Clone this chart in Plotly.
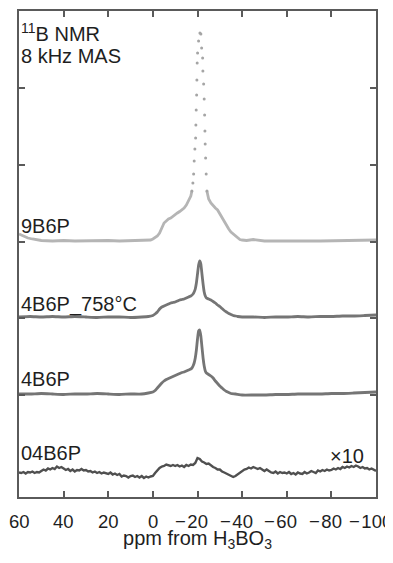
import plotly.graph_objects as go

# ---------------- data (ppm, intensity above each baseline) ----------------
offset_9B6P = 256
offset_758 = 180
offset_4B6P = 103
offset_04B6P = 26

ppm_9B6P_broad = [60, 58, 56, 54, 52, 50, 45, 40, 35, 30, 25, 20, 15, 10, 5, 2, 1, 0, -1, -2, -3, -4, -5,
                  -6, -7, -8, -9, -10, -11, -12, -13, -14, -15, -16, -17, -17.49,
                  None,
                  -24.22, -25, -26, -27, -28, -29, -30, -31, -32, -33, -34, -35, -36, -37, -38, -39, -40, -42,
                  -45, -48, -50, -55, -60, -65, -70, -75, -80, -85, -90, -95, -100]
int_9B6P_broad = [7, 5, 3, 2, 1, 0.5, 0, 0.5, 0, 0.3, 0, 0.5, 0, 0.3, 0.5, 0.5, 1, 2, 3.5, 5, 8, 13, 18,
                  20, 22, 23, 25, 26.5, 28, 29.5, 31, 33, 36, 40, 45, 50,
                  None,
                  50, 42, 38, 35, 33, 31, 27, 23, 19, 15, 12, 9, 7, 5, 3, 1.5, 1, 0.5,
                  1.5, 0.5, 0, 0, 0.3, 0, 0.2, 0, 0.3, 0.5, 0.8, 1, 1]

ppm_9B6P_peak = [-17.49, -17.94, -18.25, -18.52, -18.83, -19.15, -19.28, -19.42, -19.60, -19.73, -19.85,
                 -20.04, -20.49, -21.08, -21.52, -21.84, -22.29, -22.42, -22.74, -23.0, -23.18, -23.32,
                 -23.45, -23.63, -23.9, -24.22]
int_9B6P_peak = [50, 58, 67, 80, 92, 103, 116, 131, 146, 161, 178, 188, 200, 208, 207, 193, 183, 170,
                 157, 142, 126, 110, 97, 83, 67, 50]

ppm_758 = [60, 55, 50, 45, 40, 35, 30, 25, 20, 15, 10, 5, 2, 0, -1, -2, -3, -4, -5, -6, -7, -8, -9, -10,
           -11, -12, -13, -14, -15, -16, -17, -18, -18.5, -19, -19.5, -20, -20.5, -21, -21.5, -22, -22.5,
           -23, -23.5, -24, -25, -26, -27, -28, -29, -30, -31, -32, -33, -34, -35, -36, -37, -38, -40,
           -45, -50, -55, -60, -65, -70, -75, -80, -85, -90, -95, -100]
int_758 = [0, 0.5, 0, 0.5, 0, 0.5, 0, -0.5, 0, 0, -0.5, 0, 0.5, 1.5, 3, 5, 8, 10, 11, 12, 13, 14, 14.5, 15,
           16, 17, 17.5, 18, 19, 20, 21, 23, 25, 28, 34, 43, 52, 56, 53, 43, 33,
           25, 21, 19, 18, 17, 15.5, 14, 12, 10.5, 8.5, 6.5, 5, 3.5, 2.5, 1.5, 1, 0.5, 0,
           0, -0.5, 0, 0, 0.5, 0, 0.5, 0.5, 1, 1, 1.5, 2]

ppm_4B6P = [60, 55, 50, 45, 40, 35, 30, 25, 20, 15, 10, 5, 2, 0, -1, -2, -3, -4, -5, -6, -7, -8, -9, -10,
            -11, -12, -13, -14, -15, -16, -17, -17.5, -18, -18.5, -19, -19.5, -20, -20.5, -21, -21.5, -22,
            -22.5, -23, -23.5, -24, -25, -26, -27, -28, -29, -30, -31, -32, -33, -34, -35, -37, -40,
            -45, -50, -55, -60, -65, -70, -75, -80, -85, -90, -95, -100]
int_4B6P = [0, 0, 0.5, 0, -0.5, 0, 0, 0.5, 0, -0.5, 0, 0, 1, 2, 3.5, 6, 8.5, 11, 13, 14.5, 15.5, 16.5, 17.5,
            18.5, 19.5, 20.5, 21.5, 22, 23, 24, 25, 26, 28, 31, 36, 44, 55, 63, 64, 58, 47,
            36, 28, 23, 21, 19.5, 18, 16, 13, 10.5, 8, 6, 4, 2.5, 1.5, 0.5, 0, -1,
            -1, -1, -0.5, -0.5, 0, 0, 0, 0.5, 0.5, 1, 1.5, 2]

ppm_04B6P = list(range(60, -101, -1))
int_04B6P = [-1.5, -2, -1, -2.5, -1, -1.5, -0.5, -2, -1, -1.5,
             0, 1.5, 0.5, 2.5, 1.5, 3, 2, 4.5, 3, 4,
             2.5, 1, 2, 0, 1.5, -0.5, 1, 0.5, 2, 0.5,
             1, -0.5, 0, -1.5, -0.5, -2, -1, -2.5, -1.5, -2,
             -3, -1.5, -3.5, -2.5, -4, -3, -5.5, -4.5, -5, -6.5,
             -5, -4.5, -6, -5, -6.5, -5, -7, -5.5, -6.5, -5.5,
             -5, -2, 1, 3, 4.5, 5, 6.5, 5.5, 5, 6,
             5, 6, 4.5, 5.5, 4, 6, 5, 6.5, 6, 8,
             13, 12, 9.5, 8.5, 7, 7.5, 5.5, 4, 3, 1.5,
             1.5, -0.5, -1.5, -2.5, -4, -4.5, -6, -5, -3.5, -1.5,
             0, 1.5, 2, 3.5, 2.5, 4, 3, 2, 3, 1,
             0, 1.5, -0.5, -1.5, -2, -0.5, -2.5, -1, -2, -1.5,
             -2.5, -1, -3, -2, -3.5, -1.5, -2.5, -3, -1, -2.5,
             -1.5, 0, -1, -2, 0.5, -0.5, 1, 0, 1.5, 0.5,
             1, 2.5, 1.5, 3, 2, 4, 3, 4.5, 3.5, 5,
             4, 5.5, 4.5, 3, 4, 2.5, 3, 1.5, 2.5, 1,
             0]

x_tickvals = [60, 40, 20, 0, -20, -40, -60, -80, -100]
x_ticktext = ["60", "40", "20", "0", "\u2212\u200a20", "\u2212\u200a40", "\u2212\u200a60",
              "\u2212\u200a80", "\u2212\u200a100"]
y_tickvals = [102, 179, 255, 332, 409]

spectrum_labels = ["9B6P", "4B6P_758\u00b0C", "4B6P", "04B6P"]

# ---------------- figure ----------------
def shift(vals, off):
    return [None if v is None else v + off for v in vals]

FONT = "Liberation Sans, Arial, sans-serif"
TXT = "#1e1e1e"
fig = go.Figure()

fig.add_trace(go.Scatter(x=ppm_9B6P_broad, y=shift(int_9B6P_broad, offset_9B6P), mode="lines",
                         line=dict(color="#b5b5b5", width=2.8), connectgaps=False, hoverinfo="skip"))
fig.add_trace(go.Scatter(x=ppm_9B6P_peak, y=shift(int_9B6P_peak, offset_9B6P), mode="markers",
                         marker=dict(color="#a5a5a5", size=3), hoverinfo="skip"))
fig.add_trace(go.Scatter(x=ppm_758, y=shift(int_758, offset_758), mode="lines",
                         line=dict(color="#757575", width=2.8, shape="spline", smoothing=0.4), hoverinfo="skip"))
fig.add_trace(go.Scatter(x=ppm_4B6P, y=shift(int_4B6P, offset_4B6P), mode="lines",
                         line=dict(color="#757575", width=2.8, shape="spline", smoothing=0.4), hoverinfo="skip"))
fig.add_trace(go.Scatter(x=ppm_04B6P, y=shift(int_04B6P, offset_04B6P), mode="lines",
                         line=dict(color="#505050", width=2.4), hoverinfo="skip"))

axis_common = dict(showline=True, linecolor="#5a5a5a", linewidth=1.5, mirror="ticks",
                   ticks="inside", ticklen=6, tickwidth=1.5, tickcolor="#5a5a5a",
                   showgrid=False, zeroline=False, automargin=False)

# page body has an 8px margin, so the figure is 8px smaller and margins compensate
fig.update_layout(
    template="none",
    width=385, height=547,
    margin=dict(l=11, r=17, t=3, b=58),
    paper_bgcolor="white", plot_bgcolor="white",
    showlegend=False,
    font=dict(family=FONT, size=20, color=TXT),
    xaxis=dict(range=[60, -100], tickvals=x_tickvals, showticklabels=False,
               title=dict(text="ppm from H<sub>3</sub>BO<sub>3</sub>", font=dict(size=20, color=TXT),
                          standoff=33),
               **axis_common),
    yaxis=dict(range=[0, 486], tickvals=y_tickvals, showticklabels=False, **axis_common),
)

# x tick labels: digits centred on the tick, minus sign hanging to the left
for val, txt in zip(x_tickvals, x_ticktext):
    fig.add_annotation(x=val, y=0, xref="x", yref="paper", text=txt, showarrow=False,
                       xanchor="center", yanchor="top", yshift=-12,
                       xshift=-6 if val < 0 else 0,
                       font=dict(family=FONT, size=18.5, color=TXT))

ann = dict(xref="x", yref="y", showarrow=False, xanchor="left", yanchor="middle",
           font=dict(family=FONT, size=20, color=TXT))
fig.add_annotation(x=59.8, y=465, text="<sup>11</sup>B NMR", **ann)
fig.add_annotation(x=59.8, y=441, text="8 kHz MAS", **ann)
label_y = [271, 193, 118, 44]
for lab, yy in zip(spectrum_labels, label_y):
    fig.add_annotation(x=59.8, y=yy, text=lab, **ann)
fig.add_annotation(x=-95.5, y=41, text="\u00d710", xref="x", yref="y", showarrow=False,
                   xanchor="right", yanchor="middle", font=dict(family=FONT, size=20, color=TXT))

fig.write_html("out.html")
